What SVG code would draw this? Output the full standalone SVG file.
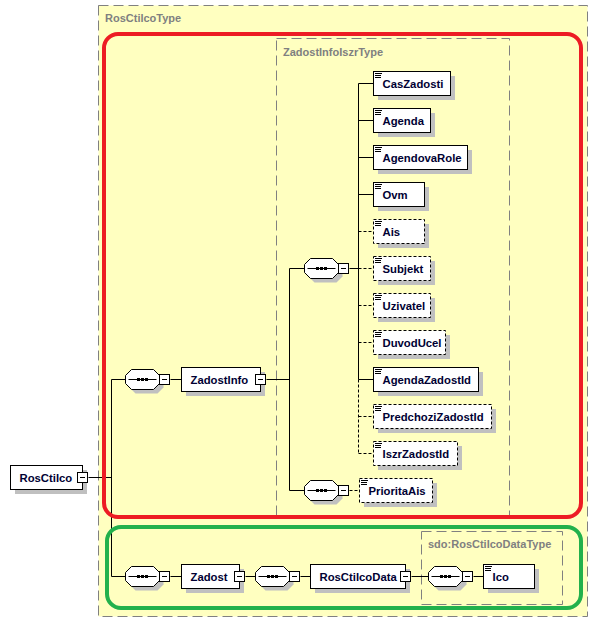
<svg xmlns="http://www.w3.org/2000/svg" width="598" height="622" viewBox="0 0 598 622">
<style>
.type{fill:none;stroke:#808080;stroke-width:1;stroke-dasharray:10,5}
.tl{font-family:"Liberation Sans",Arial,sans-serif;font-weight:bold;font-size:11px;fill:#808080}
.box{fill:#fff;stroke:#000;stroke-width:1}
.opt{stroke-dasharray:3,2}
.sh{fill:#c0c0c0}
.t{font-family:"Liberation Sans",Arial,sans-serif;font-weight:bold;font-size:11.3px;fill:#000033}
.c{fill:none;stroke:#000;stroke-width:1}
.d{stroke-dasharray:3,2}
.hl{fill:none;stroke-width:4}
</style>
<defs>
<g id="minus"><rect x="0.5" y="-4.5" width="10" height="10" fill="#000"/><rect x="0" y="-5" width="10" height="10" fill="#fff" stroke="#000"/><rect x="2.5" y="-0.5" width="5" height="1" fill="#000"/></g>
<g id="seq">
<polygon points="10,-6 32,-6 38,0 38,8 32,14 10,14 4,8 4,0" class="sh"/>
<polygon points="6,-10 28,-10 34,-4 34,4 28,10 6,10 0,4 0,-4" fill="#fff" stroke="#000"/>
<path d="M3,0H31" stroke="#000"/>
<rect x="11.5" y="-1.5" width="3" height="3" fill="#000"/>
<rect x="15.5" y="-1.5" width="3" height="3" fill="#000"/>
<rect x="19.5" y="-1.5" width="3" height="3" fill="#000"/>
<use href="#minus" x="34"/>
</g>
<g id="icon" fill="#000"><rect x="1.5" y="1.5" width="7" height="1"/><rect x="1.5" y="3.5" width="6" height="1"/><rect x="1.5" y="5.5" width="6" height="1"/></g>
</defs>

<g id="RosCtilcoType">
<rect x="98.5" y="5.5" width="489" height="611" fill="#ffffc0" stroke="#808080" stroke-dasharray="10,5"/>
<text class="tl" x="105" y="22">RosCtilcoType</text>
</g>
<g id="ZadostInfoIszrType">
<rect class="type" x="276.5" y="38.5" width="233" height="478"/>
<text class="tl" x="283" y="56">ZadostInfoIszrType</text>
</g>
<g id="RosCtilcoDataType">
<rect class="type" x="421.5" y="531.5" width="141" height="73"/>
<text class="tl" x="428" y="548">sdo:RosCtilcoDataType</text>
</g>

<g id="connectors" class="c">
<path d="M88.5,477.5H111.5"/>
<path d="M111.5,379.5V576.5"/>
<path d="M111.5,379.5H125.5"/>
<path d="M111.5,576.5H125.5"/>
<path d="M170.5,379.5H181.5"/>
<path d="M266.5,379.5H289.5"/>
<path d="M289.5,268.5V490.5"/>
<path d="M289.5,268.5H304.5"/>
<path d="M289.5,490.5H304.5"/>
<path d="M349.5,268.5H358.5"/>
<path class="d" d="M349.5,490.5H359.5"/>
<path d="M358.5,83.5V379.5"/>
<path class="d" d="M358.5,379.5V453.5"/>
<path d="M358.5,83.5H373.5M358.5,120.5H373.5M358.5,157.5H373.5M358.5,194.5H373.5M358.5,379.5H373.5"/>
<path class="d" d="M358.5,231.5H373.5M358.5,268.5H373.5M358.5,305.5H373.5M358.5,342.5H373.5M358.5,416.5H373.5M358.5,453.5H373.5"/>
<path d="M170.5,576.5H181.5"/>
<path d="M245.5,576.5H255.5"/>
<path d="M300.5,576.5H310.5"/>
<path d="M411.5,576.5H428.5"/>
<path d="M473.5,576.5H483.5"/>
</g>

<g id="seq_ZadostInfo"><use href="#seq" x="125.5" y="379.5"/></g>
<g id="seq_Zadost"><use href="#seq" x="125.5" y="576.5"/></g>
<g id="seq_RosCtilcoData"><use href="#seq" x="255.5" y="576.5"/></g>
<g id="seq_Ico"><use href="#seq" x="428.5" y="576.5"/></g>
<g id="seq_ZadostInfoIszr"><use href="#seq" x="304.5" y="268.5"/></g>
<g id="seq_PrioritaAis"><use href="#seq" x="304.5" y="490.5"/></g>

<g id="RosCtilco">
<rect class="sh" x="15" y="470" width="72" height="24"/>
<rect class="box" x="10.5" y="465.5" width="72" height="24"/>
<text class="t" x="19.5" y="481.5">RosCtilco</text>
<use href="#minus" x="77.5" y="477.5"/>
</g>
<g id="ZadostInfo">
<rect class="sh" x="186" y="372" width="79" height="24"/>
<rect class="box" x="181.5" y="367.5" width="79" height="24"/>
<text class="t" x="190.5" y="383.5">ZadostInfo</text>
<use href="#minus" x="255.5" y="379.5"/>
</g>

<g id="CasZadosti">
<rect class="sh" x="378" y="76" width="77" height="24"/>
<rect class="box" x="373.5" y="71.5" width="77" height="24"/>
<use href="#icon" x="373.5" y="71.5"/>
<text class="t" x="382.5" y="87.5">CasZadosti</text>
</g>
<g id="Agenda">
<rect class="sh" x="378" y="113" width="57" height="24"/>
<rect class="box" x="373.5" y="108.5" width="57" height="24"/>
<use href="#icon" x="373.5" y="108.5"/>
<text class="t" x="382.5" y="124.5">Agenda</text>
</g>
<g id="AgendovaRole">
<rect class="sh" x="378" y="150" width="94" height="24"/>
<rect class="box" x="373.5" y="145.5" width="94" height="24"/>
<use href="#icon" x="373.5" y="145.5"/>
<text class="t" x="382.5" y="161.5">AgendovaRole</text>
</g>
<g id="Ovm">
<rect class="sh" x="378" y="187" width="51" height="24"/>
<rect class="box" x="373.5" y="182.5" width="51" height="24"/>
<use href="#icon" x="373.5" y="182.5"/>
<text class="t" x="382.5" y="198.5">Ovm</text>
</g>
<g id="Ais">
<rect class="sh" x="378" y="224" width="51" height="24"/>
<rect class="box opt" x="373.5" y="219.5" width="51" height="24"/>
<use href="#icon" x="373.5" y="219.5"/>
<text class="t" x="382.5" y="235.5">Ais</text>
</g>
<g id="Subjekt">
<rect class="sh" x="378" y="261" width="57" height="24"/>
<rect class="box opt" x="373.5" y="256.5" width="57" height="24"/>
<use href="#icon" x="373.5" y="256.5"/>
<text class="t" x="382.5" y="272.5">Subjekt</text>
</g>
<g id="Uzivatel">
<rect class="sh" x="378" y="298" width="57" height="24"/>
<rect class="box opt" x="373.5" y="293.5" width="57" height="24"/>
<use href="#icon" x="373.5" y="293.5"/>
<text class="t" x="382.5" y="309.5">Uzivatel</text>
</g>
<g id="DuvodUcel">
<rect class="sh" x="378" y="335" width="72" height="24"/>
<rect class="box opt" x="373.5" y="330.5" width="72" height="24"/>
<use href="#icon" x="373.5" y="330.5"/>
<text class="t" x="382.5" y="346.5">DuvodUcel</text>
</g>
<g id="AgendaZadostId">
<rect class="sh" x="378" y="372" width="105" height="24"/>
<rect class="box" x="373.5" y="367.5" width="105" height="24"/>
<use href="#icon" x="373.5" y="367.5"/>
<text class="t" x="382.5" y="383.5">AgendaZadostId</text>
</g>
<g id="PredchoziZadostId">
<rect class="sh" x="378" y="409" width="118" height="24"/>
<rect class="box opt" x="373.5" y="404.5" width="118" height="24"/>
<use href="#icon" x="373.5" y="404.5"/>
<text class="t" x="382.5" y="420.5">PredchoziZadostId</text>
</g>
<g id="IszrZadostId">
<rect class="sh" x="378" y="446" width="84" height="24"/>
<rect class="box opt" x="373.5" y="441.5" width="84" height="24"/>
<use href="#icon" x="373.5" y="441.5"/>
<text class="t" x="382.5" y="457.5">IszrZadostId</text>
</g>
<g id="PrioritaAis">
<rect class="sh" x="364" y="483" width="73" height="24"/>
<rect class="box opt" x="359.5" y="478.5" width="73" height="24"/>
<use href="#icon" x="359.5" y="478.5"/>
<text class="t" x="368.5" y="494.5">PrioritaAis</text>
</g>

<g id="Zadost">
<rect class="sh" x="186" y="569" width="58" height="24"/>
<rect class="box" x="181.5" y="564.5" width="58" height="24"/>
<text class="t" x="190.5" y="580.5">Zadost</text>
<use href="#minus" x="234.5" y="576.5"/>
</g>
<g id="RosCtilcoData">
<rect class="sh" x="315" y="569" width="95" height="24"/>
<rect class="box" x="310.5" y="564.5" width="95" height="24"/>
<text class="t" x="319.5" y="580.5">RosCtilcoData</text>
<use href="#minus" x="400.5" y="576.5"/>
</g>
<g id="Ico">
<rect class="sh" x="488" y="569" width="51" height="24"/>
<rect class="box" x="483.5" y="564.5" width="51" height="24"/>
<use href="#icon" x="483.5" y="564.5"/>
<text class="t" x="492.5" y="580.5">Ico</text>
</g>

<g id="highlights">
<rect class="hl" x="104" y="34" width="477" height="483" rx="14" stroke="#ed1c24"/>
<rect class="hl" x="107" y="527" width="474" height="81" rx="14" stroke="#22b14c"/>
</g>
</svg>
